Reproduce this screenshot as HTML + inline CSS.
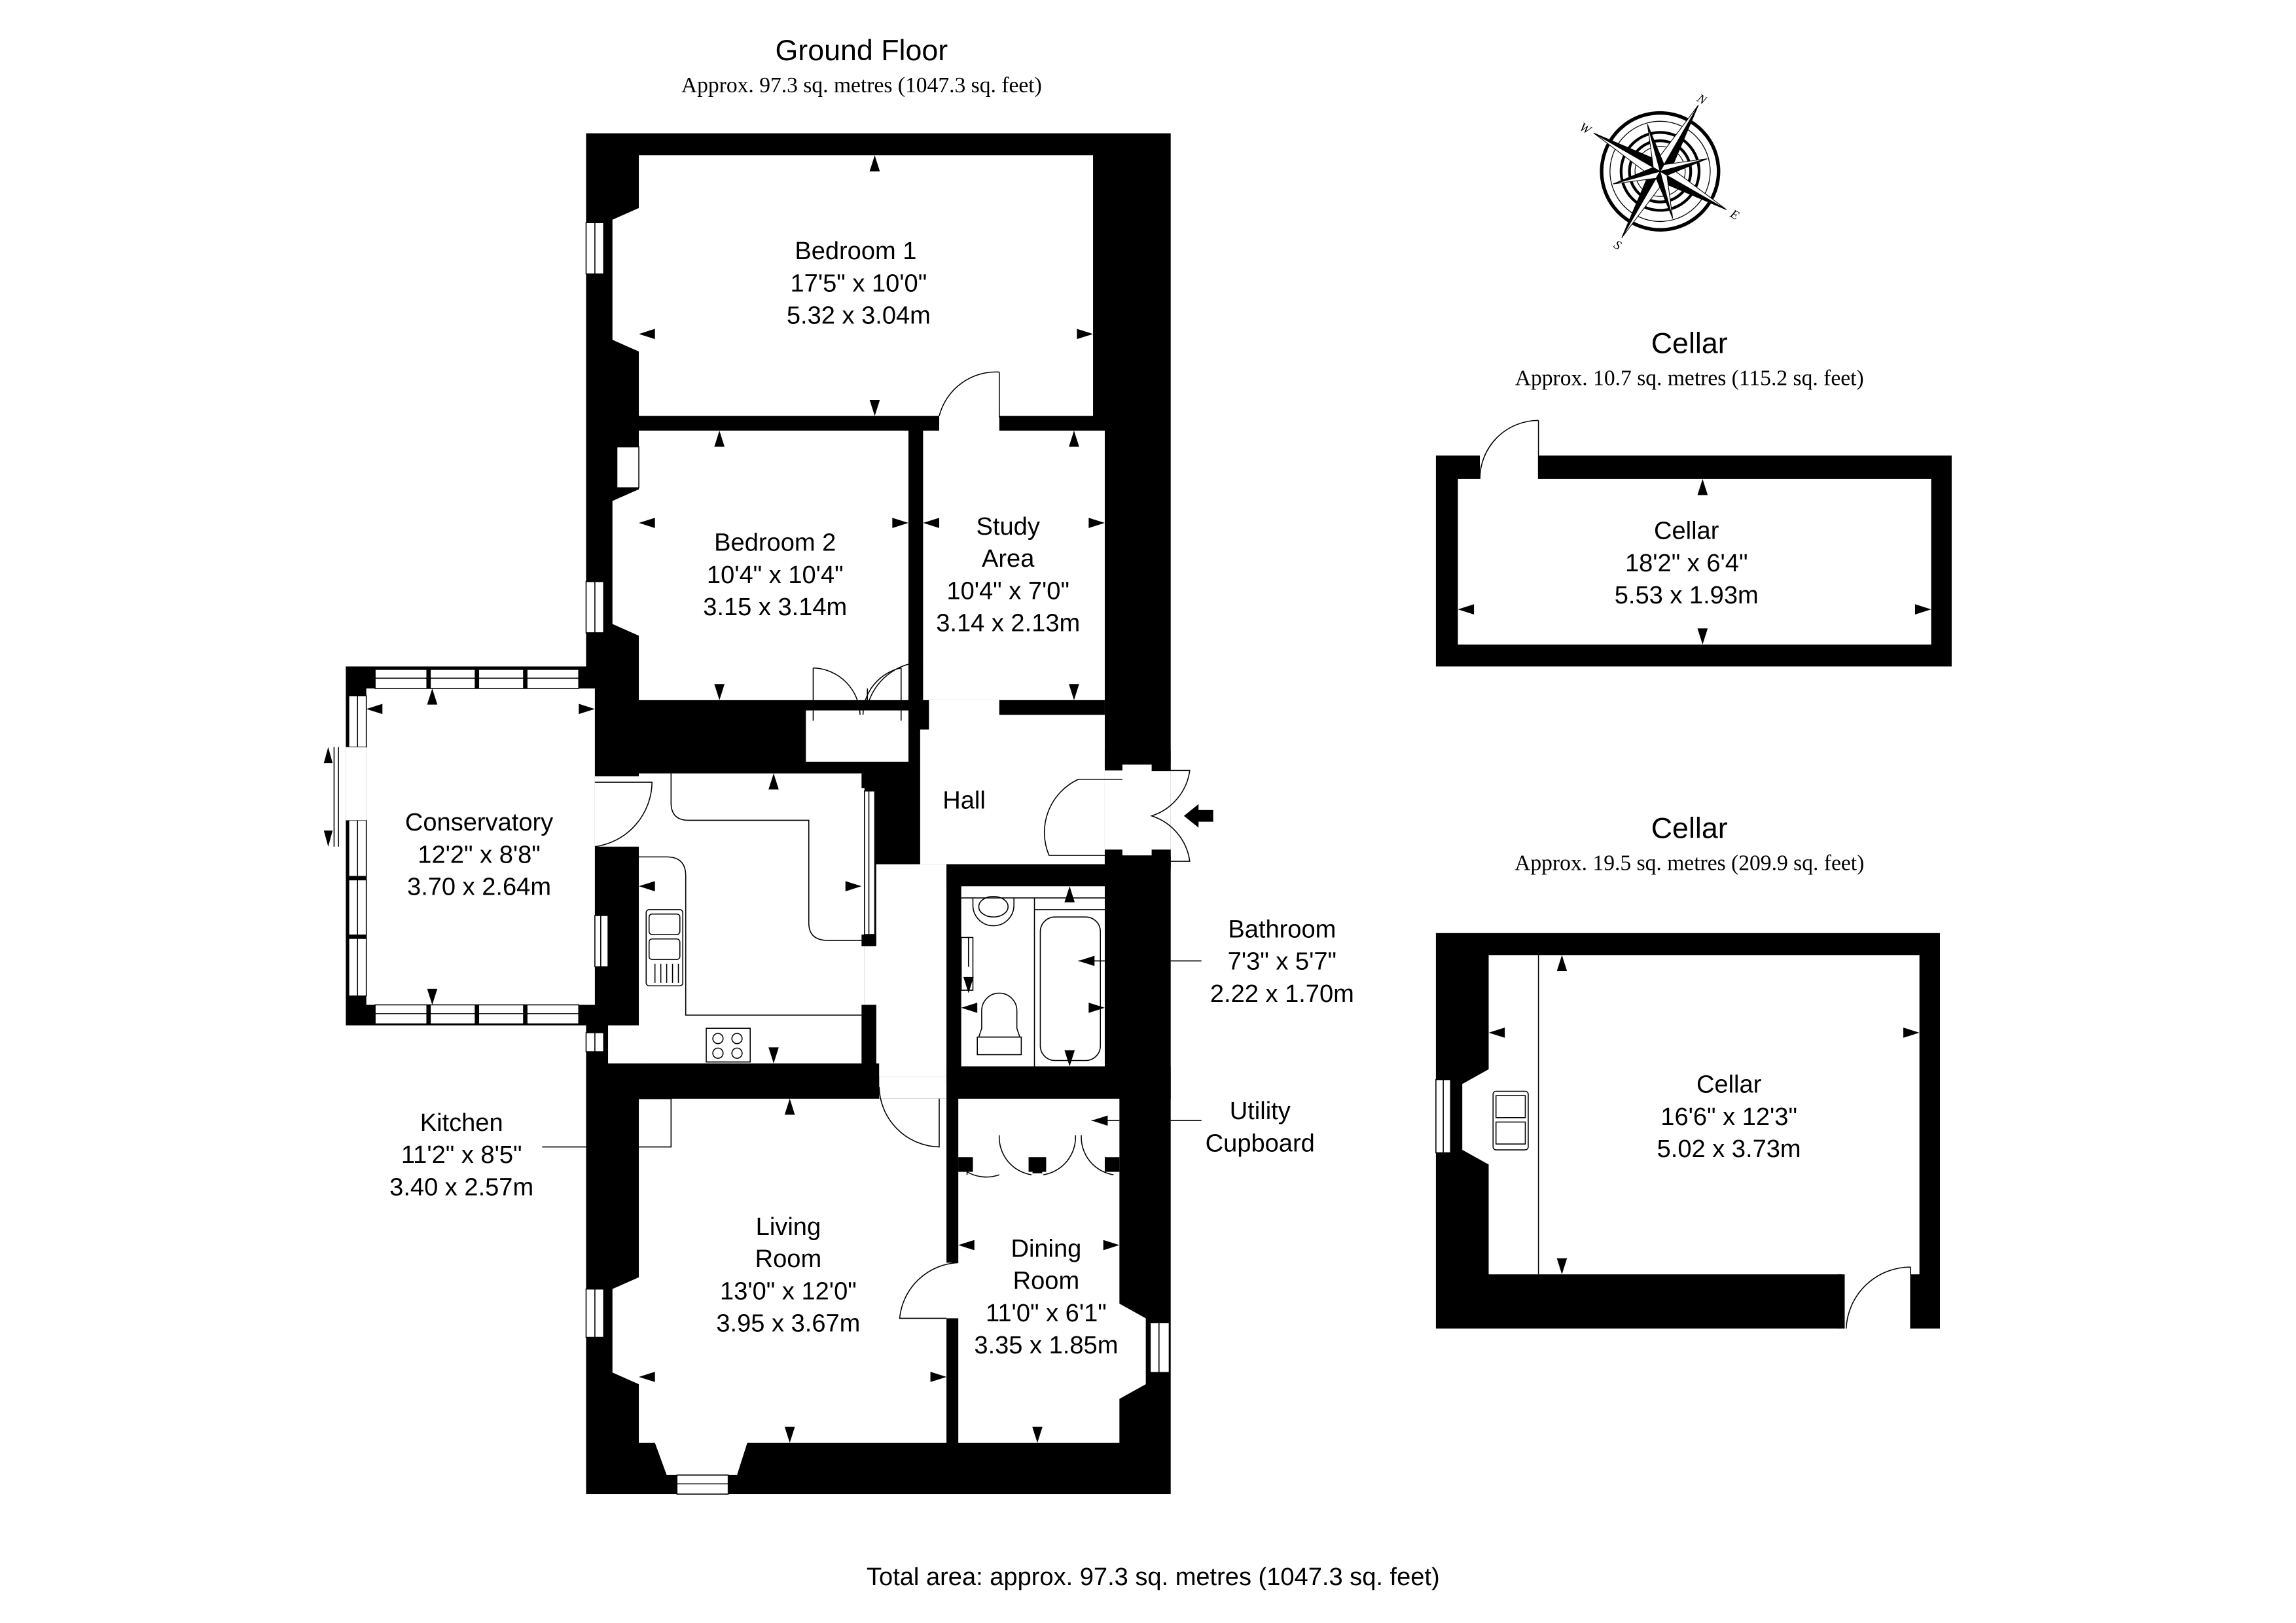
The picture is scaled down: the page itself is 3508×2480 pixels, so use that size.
<!DOCTYPE html>
<html><head><meta charset="utf-8"><style>
html,body{margin:0;padding:0;background:#fff}
svg{display:block}
.t{font-family:"Liberation Sans",sans-serif;fill:#000}
.s{font-family:"Liberation Serif",serif;fill:#000}
.l{fill:none;stroke:#000;stroke-width:0.7}
</style></head><body>
<svg width="3508" height="2480" viewBox="0 0 1567 1108" preserveAspectRatio="none" xmlns="http://www.w3.org/2000/svg">
<defs>
<polygon id="u" points="0,0 -3.5,11 3.5,11" fill="#000"/>
</defs>
<rect width="1567" height="1108" fill="#fff"/>

<!-- Titles -->
<text class="t" x="588" y="41" font-size="20" text-anchor="middle">Ground Floor</text>
<text class="s" x="588" y="63" font-size="15" text-anchor="middle">Approx. 97.3 sq. metres (1047.3 sq. feet)</text>
<text class="t" x="1153" y="241" font-size="20" text-anchor="middle">Cellar</text>
<text class="s" x="1153" y="263" font-size="15" text-anchor="middle">Approx. 10.7 sq. metres (115.2 sq. feet)</text>
<text class="t" x="1153" y="572" font-size="20" text-anchor="middle">Cellar</text>
<text class="s" x="1153" y="594" font-size="15" text-anchor="middle">Approx. 19.5 sq. metres (209.9 sq. feet)</text>
<text class="t" x="787" y="1082" font-size="17" text-anchor="middle">Total area: approx. 97.3 sq. metres (1047.3 sq. feet)</text>

<!-- Main building black -->
<rect x="400" y="91" width="399" height="929" fill="#000"/>
<rect x="236" y="455" width="170" height="245" fill="#000"/>

<g fill="#fff">
<polygon points="436,106 746,106 746,284 436,284 436,240 418,232 418,150 436,142"/>
<rect x="641" y="283" width="41" height="12"/>
<polygon points="436,294 620,294 620,478 436,478 436,434 418,426 418,342 436,334"/>
<rect x="630" y="294" width="124" height="184"/>
<rect x="628" y="478" width="126" height="112"/>
<rect x="598" y="590" width="48" height="145"/>
<rect x="600" y="735" width="46" height="15"/>
<rect x="550" y="485" width="70" height="35"/>
<rect x="436" y="528" width="154" height="198"/>
<rect x="590" y="645" width="10" height="41"/>
<rect x="406" y="530" width="32" height="48"/>
<rect x="415" y="700" width="25" height="26"/>
<polygon points="436,750 646,750 646,985 510,985 503,1007 455,1007 447,985 436,985 436,945 418,937 418,880 436,872"/>
<rect x="645" y="862" width="10" height="38"/>
<polygon points="654,750 764,750 764,890 782,900 782,945 764,955 764,985 654,985"/>
<rect x="656" y="605" width="98" height="123"/>
<rect x="250" y="470" width="156" height="216"/>
<rect x="754" y="522" width="45" height="62"/>
</g>
<g fill="#000">
<rect x="682" y="478" width="72" height="10"/>
<rect x="620" y="478" width="14" height="20"/>
<rect x="646" y="590" width="108" height="15"/>
<rect x="646" y="590" width="10" height="150"/>
<rect x="646" y="728" width="153" height="22"/>
<rect x="415" y="726" width="185" height="24"/>
<rect x="588" y="528" width="10" height="10"/>
<rect x="588" y="638" width="10" height="8"/>
<rect x="588" y="686" width="10" height="50"/>
<rect x="646" y="750" width="8" height="112"/>
<rect x="646" y="900" width="8" height="85"/>
<rect x="654" y="790" width="10" height="10"/>
<rect x="702" y="790" width="12" height="10"/>
<rect x="754" y="790" width="10" height="10"/>
<rect x="754" y="584" width="45" height="10"/>
<rect x="754" y="512" width="12" height="14"/>
<rect x="786" y="512" width="13" height="14"/>
<rect x="754" y="580" width="12" height="12"/>
<rect x="786" y="580" width="13" height="12"/>
</g>
<g fill="#fff" stroke="#000" stroke-width="0.7">
<rect x="400" y="152" width="12" height="35"/>
<rect x="421" y="305" width="15" height="28"/>
<rect x="400" y="397" width="12" height="35"/>
<rect x="400" y="880" width="12" height="33"/>
<rect x="785" y="903" width="13" height="34"/>
<rect x="462" y="1007" width="35" height="13"/>
<rect x="406" y="625" width="9" height="35"/>
<rect x="400" y="705" width="12" height="13"/>
<rect x="590" y="540" width="7" height="98"/>
</g>
<g class="l">
<line x1="406" y1="152" x2="406" y2="187"/><line x1="406" y1="397" x2="406" y2="432"/>
<line x1="406" y1="880" x2="406" y2="913"/><line x1="791" y1="903" x2="791" y2="937"/>
<line x1="462" y1="1013" x2="497" y2="1013"/><line x1="593" y1="540" x2="593" y2="638"/>
<line x1="410" y1="625" x2="410" y2="660"/><line x1="406" y1="705" x2="406" y2="718"/>
</g>

<g fill="#fff" stroke="#000" stroke-width="0.7">
<rect x="256" y="457" width="139" height="13"/>
<rect x="256" y="686" width="139" height="13"/>
<rect x="238" y="475" width="12" height="35"/>
<rect x="238" y="560" width="12" height="120"/>
</g>
<g class="l">
<line x1="256" y1="463" x2="395" y2="463"/><line x1="256" y1="692" x2="395" y2="692"/>
<line x1="244" y1="475" x2="244" y2="510"/><line x1="244" y1="560" x2="244" y2="680"/>
<line x1="231" y1="510" x2="231" y2="578"/><line x1="228" y1="510" x2="228" y2="578"/>
</g>
<g fill="#000">
<rect x="236" y="510" width="14" height="50" fill="#fff"/>
<rect x="291" y="457" width="3" height="13"/><rect x="324" y="457" width="3" height="13"/><rect x="357" y="457" width="3" height="13"/>
<rect x="291" y="686" width="3" height="13"/><rect x="324" y="686" width="3" height="13"/><rect x="357" y="686" width="3" height="13"/>
<rect x="238" y="598" width="12" height="3"/><rect x="238" y="638" width="12" height="3"/>
<polygon points="224,510 221,521 227,521"/><polygon points="224,578 221,567 227,567"/>
</g>

<g class="l">
<line x1="682" y1="254" x2="682" y2="285"/><path d="M682,254 A40,40 0 0 0 641,284"/>
<path d="M630,452 A40,40 0 0 0 592,482"/><line x1="592" y1="482" x2="592" y2="470"/>
<path d="M555,456 L555,492 M555,456 A33,33 0 0 1 587,488 M615,456 L615,492 M615,456 A33,33 0 0 0 589,488"/>
<path d="M406,534 L445,534 A45,45 0 0 1 406,578"/>
<path d="M600,742 A42,42 0 0 0 641,783 L641,750"/>
<path d="M654,862 A42,42 0 0 0 614,900 L646,900"/>
<path d="M766,532 L736,532 A40,40 0 0 0 716,584 L766,584"/>
<path d="M786,526 L812,526 A38,38 0 0 1 786,557 A38,38 0 0 1 812,588 L786,588"/>
<path d="M660,802 L660,800 A26,26 0 0 0 682,802 M704,802 A26,26 0 0 1 682,775 M712,802 A26,26 0 0 0 734,775 M760,802 A26,26 0 0 1 738,775"/>
<path d="M436,750 L458,750 L458,783 L436,783"/>
<path d="M436,585 L455,585 Q468,585 468,598 L468,693 L588,693"/>
<path d="M458,528 L458,548 Q458,560 470,560 L552,560 L552,630 Q552,642 565,642 L588,642"/>
<rect x="441" y="621" width="25" height="52" rx="2"/>
<rect x="443" y="624" width="21" height="14" rx="2"/><rect x="443" y="641" width="21" height="14" rx="2"/>
<path d="M447,658 V671 M451,658 V671 M455,658 V671 M459,658 V671 M463,658 V671"/>
<rect x="482" y="702" width="30" height="23"/>
<circle cx="490" cy="709" r="3.5"/><circle cx="503" cy="709" r="3.5"/><circle cx="490" cy="719" r="3.5"/><circle cx="503" cy="719" r="3.5"/>
<line x1="656" y1="613" x2="754" y2="613"/><line x1="706" y1="613" x2="706" y2="728"/><line x1="706" y1="621" x2="754" y2="621"/>
<path d="M664,613 L664,618 A14,14 0 0 0 692,618 L692,613"/><ellipse cx="678" cy="619" rx="10" ry="7"/>
<rect x="710" y="626" width="41" height="98" rx="10"/>
<rect x="656" y="640" width="8" height="36"/>
<path d="M670,702 L670,690 A12,12 0 0 1 694,690 L694,702 L696,708 L668,708 Z"/><rect x="667" y="708" width="30" height="12"/>
<line x1="799" y1="656" x2="820" y2="656"/><line x1="799" y1="765" x2="820" y2="765"/>
<line x1="370" y1="783" x2="400" y2="783"/><line x1="736" y1="656" x2="754" y2="656"/>
<line x1="745" y1="765" x2="764" y2="765"/><line x1="661" y1="640" x2="661" y2="660"/>
</g>
<polygon points="808,557 818,549 818,553 828,553 828,561 818,561 818,565" fill="#000"/>

<g>
<use href="#u" transform="translate(597,106)"/><use href="#u" transform="translate(597,284) rotate(180)"/>
<use href="#u" transform="translate(436,228) rotate(-90)"/><use href="#u" transform="translate(746,228) rotate(90)"/>
<use href="#u" transform="translate(491,294)"/><use href="#u" transform="translate(491,478) rotate(180)"/>
<use href="#u" transform="translate(436,357) rotate(-90)"/><use href="#u" transform="translate(620,357) rotate(90)"/>
<use href="#u" transform="translate(630,357) rotate(-90)"/><use href="#u" transform="translate(754,357) rotate(90)"/>
<use href="#u" transform="translate(733,294)"/><use href="#u" transform="translate(733,478) rotate(180)"/>
<use href="#u" transform="translate(295,470)"/><use href="#u" transform="translate(295,686) rotate(180)"/>
<use href="#u" transform="translate(250,484) rotate(-90)"/><use href="#u" transform="translate(406,484) rotate(90)"/>
<use href="#u" transform="translate(528,528)"/><use href="#u" transform="translate(528,726) rotate(180)"/>
<use href="#u" transform="translate(436,605) rotate(-90)"/><use href="#u" transform="translate(588,605) rotate(90)"/>
<use href="#u" transform="translate(457,726) rotate(180) scale(1,-1)"/>
<use href="#u" transform="translate(539,750)"/><use href="#u" transform="translate(539,985) rotate(180)"/>
<use href="#u" transform="translate(436,940) rotate(-90)"/><use href="#u" transform="translate(646,940) rotate(90)"/>
<use href="#u" transform="translate(708,790) "/><use href="#u" transform="translate(708,985) rotate(180)"/>
<use href="#u" transform="translate(654,850) rotate(-90)"/><use href="#u" transform="translate(764,850) rotate(90)"/>
<use href="#u" transform="translate(745,765) rotate(-90)"/>
<use href="#u" transform="translate(730,605)"/><use href="#u" transform="translate(730,728) rotate(180)"/>
<use href="#u" transform="translate(656,688) rotate(-90)"/><use href="#u" transform="translate(754,688) rotate(90)"/>
<use href="#u" transform="translate(736,656) rotate(-90)"/><use href="#u" transform="translate(661,678) rotate(180)"/>
</g>

<!-- Cellar 1 -->
<rect x="980" y="311" width="352" height="144" fill="#000"/>
<rect x="995" y="327" width="323" height="113" fill="#fff"/>
<rect x="1010" y="310" width="40" height="18" fill="#fff"/>
<path class="l" d="M1050,287 L1050,327 M1050,287 A40,40 0 0 0 1010,327"/>
<use href="#u" transform="translate(1162,327)"/><use href="#u" transform="translate(1162,440) rotate(180)"/>
<use href="#u" transform="translate(995,416) rotate(-90)"/><use href="#u" transform="translate(1318,416) rotate(90)"/>

<!-- Cellar 2 -->
<rect x="980" y="637" width="344" height="270" fill="#000"/>
<polygon points="1016,652 1310,652 1310,870 1016,870 1016,795 998,785 998,740 1016,730" fill="#fff"/>
<rect x="1257" y="869" width="47" height="40" fill="#fff"/>
<rect x="1254" y="870" width="5" height="37" fill="#000"/>
<path class="l" d="M1304,865 L1304,907 M1304,865 A44,44 0 0 0 1260,907"/>
<rect x="980" y="737" width="10" height="50" fill="#fff" stroke="#000" stroke-width="0.7"/>
<line class="l" x1="985" y1="737" x2="985" y2="787"/>
<line class="l" x1="1050" y1="652" x2="1050" y2="870"/>
<rect class="l" x="1019" y="745" width="24" height="40" rx="2"/>
<rect class="l" x="1021" y="748" width="20" height="15"/><rect class="l" x="1021" y="766" width="20" height="15"/>
<use href="#u" transform="translate(1066,652)"/><use href="#u" transform="translate(1066,870) rotate(180)"/>
<use href="#u" transform="translate(1016,705) rotate(-90)"/><use href="#u" transform="translate(1310,705) rotate(90)"/>

<!-- room labels -->
<g class="t" font-size="17" text-anchor="middle">
<text x="584" y="177">Bedroom 1</text><text x="586" y="199">17'5" x 10'0"</text><text x="586" y="221">5.32 x 3.04m</text>
<text x="529" y="376">Bedroom 2</text><text x="529" y="398">10'4" x 10'4"</text><text x="529" y="420">3.15 x 3.14m</text>
<text x="688" y="365">Study</text><text x="688" y="387">Area</text><text x="688" y="409">10'4" x 7'0"</text><text x="688" y="431">3.14 x 2.13m</text>
<text x="658" y="552">Hall</text>
<text x="327" y="567">Conservatory</text><text x="327" y="589">12'2" x 8'8"</text><text x="327" y="611">3.70 x 2.64m</text>
<text x="875" y="640">Bathroom</text><text x="875" y="662">7'3" x 5'7"</text><text x="875" y="684">2.22 x 1.70m</text>
<text x="860" y="764">Utility</text><text x="860" y="786">Cupboard</text>
<text x="315" y="772">Kitchen</text><text x="315" y="794">11'2" x 8'5"</text><text x="315" y="816">3.40 x 2.57m</text>
<text x="538" y="843">Living</text><text x="538" y="865">Room</text><text x="538" y="887">13'0" x 12'0"</text><text x="538" y="909">3.95 x 3.67m</text>
<text x="714" y="858">Dining</text><text x="714" y="880">Room</text><text x="714" y="902">11'0" x 6'1"</text><text x="714" y="924">3.35 x 1.85m</text>
<text x="1151" y="368">Cellar</text><text x="1151" y="390">18'2" x 6'4"</text><text x="1151" y="412">5.53 x 1.93m</text>
<text x="1180" y="746">Cellar</text><text x="1180" y="768">16'6" x 12'3"</text><text x="1180" y="790">5.02 x 3.73m</text>
</g>

<!-- Compass -->
<g transform="translate(1133,117) rotate(30) scale(0.95)">
<circle r="42" fill="none" stroke="#000" stroke-width="2.5"/>
<circle r="36" fill="none" stroke="#000" stroke-width="0.6"/>
<circle r="28" fill="none" stroke="#000" stroke-width="2"/>
<circle r="22" fill="none" stroke="#000" stroke-width="2"/>
<circle r="18" fill="none" stroke="#000" stroke-width="0.6"/>
<g fill="#000" stroke="#000" stroke-width="0.5">
<polygon points="0,-55 6,-6 0,0"/><polygon points="0,-55 -6,-6 0,0" fill="#fff"/>
<polygon points="0,55 -6,6 0,0"/><polygon points="0,55 6,6 0,0" fill="#fff"/>
<polygon points="55,0 6,6 0,0"/><polygon points="55,0 6,-6 0,0" fill="#fff"/>
<polygon points="-55,0 -6,-6 0,0"/><polygon points="-55,0 -6,6 0,0" fill="#fff"/>
<g transform="rotate(45)">
<polygon points="0,-35 4,-4 0,0"/><polygon points="0,-35 -4,-4 0,0" fill="#fff"/>
<polygon points="0,35 -4,4 0,0"/><polygon points="0,35 4,4 0,0" fill="#fff"/>
<polygon points="35,0 4,4 0,0"/><polygon points="35,0 4,-4 0,0" fill="#fff"/>
<polygon points="-35,0 -4,-4 0,0"/><polygon points="-35,0 -4,4 0,0" fill="#fff"/>
</g>
</g>
<text class="s" x="0" y="-57" font-size="9" text-anchor="middle" font-style="italic">N</text>
<text class="s" x="0" y="64" font-size="9" text-anchor="middle" font-style="italic">S</text>
<text class="s" x="62" y="3" font-size="9" text-anchor="middle" font-style="italic">E</text>
<text class="s" x="-62" y="3" font-size="9" text-anchor="middle" font-style="italic">W</text>
</g>
</svg>
</body></html>
